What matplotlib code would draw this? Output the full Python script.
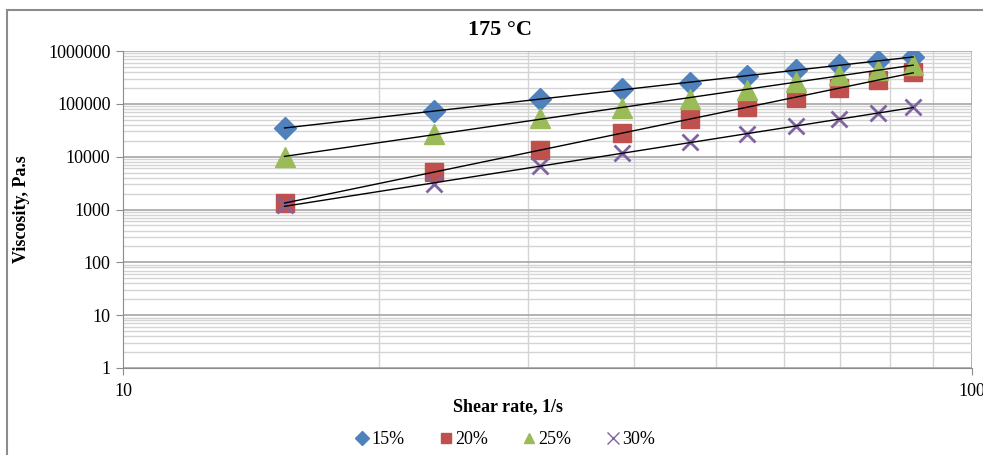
import numpy as np
import matplotlib.pyplot as plt
from matplotlib.lines import Line2D
from matplotlib.patches import Rectangle
from matplotlib.ticker import LogLocator, FixedLocator, NullFormatter

plt.rcParams['font.family'] = ['Liberation Serif', 'DejaVu Serif']

shear = [15.5, 23.25, 31.0, 38.75, 46.5, 54.25, 62.0, 69.75, 77.5, 85.25]
visc_15 = [34800, 73000, 123000, 190000, 248000, 338000, 437000, 543000, 646000, 770000]
visc_20 = [1320, 5100, 13300, 28400, 51500, 88100, 127000, 196000, 282000, 395000]
visc_25 = [10000, 26700, 53900, 83600, 123000, 182000, 258000, 351000, 437000, 543000]
visc_30 = [1200, 3020, 6600, 11700, 18600, 26800, 38000, 50800, 66100, 88100]
labels = ['15%', '20%', '25%', '30%']

series = [
    (visc_15, 'D', '#4F81BD', 11),
    (visc_20, 's', '#C0504D', 13),
    (visc_25, '^', '#9BBB59', 14),
    (visc_30, 'x', '#8064A2', 12),
]

fig = plt.figure(figsize=(9.83, 4.55), dpi=100)
fig.patches.append(Rectangle((7 / 983, -0.05), 1.1, 0.05 + 445 / 455, transform=fig.transFigure,
                             fill=False, edgecolor='#8c8c8c', linewidth=1.5))
ax = fig.add_axes([123 / 983, 87 / 455, 849 / 983, 317 / 455])
ax.set_xscale('log')
ax.set_yscale('log')
ax.set_xlim(10, 100)
ax.set_ylim(1, 1000000)

x = np.array(shear)
for (vals, mk, col, ms), lab in zip(series, labels):
    y = np.array(vals)
    if mk == 'x':
        ax.plot(x, y, linestyle='none', marker=mk, color=col, markersize=ms, mew=2, zorder=3)
    else:
        ax.plot(x, y, linestyle='none', marker=mk, color=col, markersize=ms, mec=col, zorder=3)
    # power-law trend line
    b, a = np.polyfit(np.log10(x), np.log10(y), 1)
    ax.plot(x[[0, -1]], 10 ** (a + b * np.log10(x[[0, -1]])), color='black', linewidth=1, zorder=4)

ax.set_yticks([1, 10, 100, 1000, 10000, 100000, 1000000])
ax.set_yticklabels(['1', '10', '100', '1000', '10000', '100000', '1000000'])
ax.yaxis.set_minor_locator(LogLocator(base=10, subs=np.arange(2, 10), numticks=100))
ax.yaxis.set_minor_formatter(NullFormatter())
ax.set_xticks([10, 100])
ax.set_xticklabels(['10', '100'])
ax.xaxis.set_minor_locator(FixedLocator([20, 30, 40, 50, 60, 70, 80, 90]))
ax.xaxis.set_minor_formatter(NullFormatter())

ax.grid(which='major', color='#a6a6a6', linewidth=1.2)
ax.grid(which='minor', color='#d4d4d4', linewidth=1)
ax.set_axisbelow(True)
for s in ['top', 'right']:
    ax.spines[s].set_visible(False)
for s in ['left', 'bottom']:
    ax.spines[s].set_color('#8c8c8c')
ax.tick_params(which='major', length=5, color='#8c8c8c', labelsize=13, pad=4)
ax.tick_params(which='minor', length=0)
ax.tick_params(axis='x', pad=6)

fig.text(500 / 983, 1 - 30 / 455, '175 °C', fontsize=16, fontweight='bold', ha='center', va='center')
ax.set_xlabel('Shear rate, 1/s', fontsize=13, fontweight='bold')
ax.xaxis.set_label_coords((508 - 123) / 849, -(398 - 368) / 317)
ax.set_ylabel('Viscosity, Pa.s', fontsize=13, fontweight='bold')
ax.yaxis.set_label_coords(-(123 - 30) / 849, 0.5)

handles = [Line2D([], [], linestyle='none', marker=mk, color=col, markersize=7 if mk != 'x' else 8,
                  mew=1) for _, mk, col, _ in series]
fig.legend(handles, labels, loc='center', bbox_to_anchor=(505 / 983, 1 - 440 / 455), ncol=4,
           frameon=False, fontsize=13, handletextpad=0.1, columnspacing=1.9, handlelength=0.8)

fig.savefig('out.png', dpi=100)
